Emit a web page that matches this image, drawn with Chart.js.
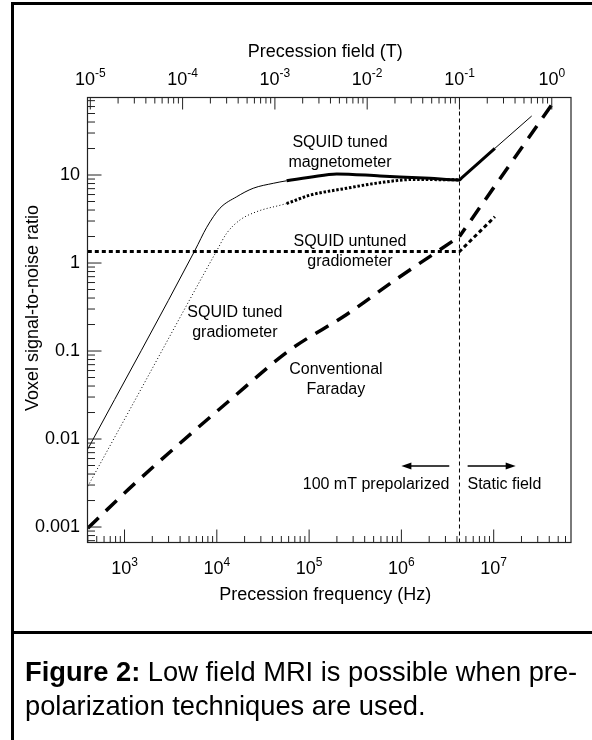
<!DOCTYPE html>
<html>
<head>
<meta charset="utf-8">
<script src="https://cdn.jsdelivr.net/npm/chart.js@4.4.0/dist/chart.umd.min.js"></script>
<style>
  html, body { margin: 0; padding: 0; background: #fff; }
  body { width: 592px; height: 740px; position: relative; overflow: hidden; font-family: 'Liberation Sans', Arial, sans-serif; }
  .frame { position: absolute; left: 11px; top: 2px; width: 600px; height: 760px; border: 3px solid #000; box-sizing: border-box; }
  .divider { position: absolute; left: 11px; top: 631px; width: 600px; height: 3px; background: #000; }
  .chart-box { position: absolute; left: 0; top: 0; width: 592px; height: 740px; }
  .caption { position: absolute; left: 25px; top: 655px; font-size: 27.3px; line-height: 34px; white-space: nowrap; color: #000; }
</style>
</head>
<body>
<div class="frame"></div>
<div class="divider"></div>
<div class="chart-box"><canvas id="snrChart"></canvas></div>
<div class="caption"><b>Figure 2:</b> Low field MRI is possible when pre-<br>polarization techniques are used.</div>
<script>
// proton gyromagnetic ratio, Hz per tesla (links the two x axes)
const GAMMA = 42.58e6;
const FREQ_MIN = 397, FREQ_MAX = 6.88e7;
const SNR_MIN = 6.67e-4, SNR_MAX = 76;
const PREPOL_FREQ = 4.258e6; // 0.1 T

// SQUID tuned magnetometer (solid, thick between 57 kHz and 10 MHz)
const magFreq = [400, 5810, 7780, 10800, 16400, 24800, 40900, 57000, 102000, 199000, 586000, 2040000, 4258000, 4500000, 10300000, 25800000];
const magSnr  = [0.0077, 1.4, 2.55, 4.19, 5.66, 7.07, 8.05, 8.6, 9.42, 10.3, 9.75, 9.17, 8.8, 9.26, 20.1, 46.8];

// SQUID tuned gradiometer (dotted, thick above 57 kHz)
const gradFreq = [400, 1300, 9980, 12800, 17800, 27000, 57000, 102000, 255000, 586000, 1350000, 4258000];
const gradSnr  = [0.0029, 0.0277, 1.38, 2.18, 3.08, 3.83, 4.75, 5.9, 7.07, 8.18, 8.9, 8.8];

// SQUID untuned gradiometer
const untunedFreq = [400, 4258000, 10300000];
const untunedSnr  = [1.35, 1.35, 3.36];

// Conventional Faraday: prepolarized part, then static field part
const faradayFreq = [400, 1300, 13900, 62200, 255000, 889000, 2420000, 4258000];
const faradaySnr  = [0.00097, 0.00314, 0.0277, 0.103, 0.26, 0.66, 1.34, 2.0];
const faradayStaticFreq = [4258000, 45700000];
const faradayStaticSnr  = [2.0, 70];

// axis labels
const hzExponents = [3, 4, 5, 6, 7];
const teslaExponents = [-5, -4, -3, -2, -1, 0];
const snrTickValues = [0.001, 0.01, 0.1, 1, 10];
const snrTickLabels = ['0.001', '0.01', '0.1', '1', '10'];

// curve labels (data position of the first line)
const curveLabels = [['SQUID tuned', 'magnetometer'], ['SQUID untuned', 'gradiometer'], ['SQUID tuned', 'gradiometer'], ['Conventional', 'Faraday']];
const curveLabelFreq = [2.16e5, 2.77e5, 1.57e4, 1.95e5];
const curveLabelSnr  = [23.1, 1.75, 0.27, 0.0608];

const regionLabels = ['100 mT prepolarized', 'Static field'];
const regionLabelSnr = 0.0030;
const leftArrowFreq = [3.3e6, 1.0e6];
const rightArrowFreq = [5.22e6, 1.73e7];
const arrowSnr = 0.00493;

const FONT = '"Liberation Sans", Arial, sans-serif';
const toPoints = (xs, ys) => xs.map((x, i) => ({ x, y: ys[i] }));

function logTicks(min, max) {
    const out = [];
    for (let e = Math.floor(Math.log10(min)); e <= Math.ceil(Math.log10(max)); e++) {
        for (let m = 1; m <= 9; m++) {
            const v = m * Math.pow(10, e);
            if (v >= min * 0.999 && v <= max * 1.001) out.push({ v, major: m === 1 });
        }
    }
    return out;
}

function drawPower(ctx, exp, cx, baseY) {
    const e = String(exp);
    ctx.font = '18px ' + FONT;
    const w1 = ctx.measureText('10').width;
    ctx.font = '12px ' + FONT;
    const w2 = ctx.measureText(e).width;
    const left = cx - (w1 + w2) / 2;
    ctx.textAlign = 'left';
    ctx.textBaseline = 'alphabetic';
    ctx.font = '18px ' + FONT;
    ctx.fillText('10', left, baseY);
    ctx.font = '12px ' + FONT;
    ctx.fillText(e, left + w1, baseY - 8.5);
}

function arrow(ctx, x1, x2, y) {
    const dir = Math.sign(x2 - x1);
    ctx.beginPath();
    ctx.moveTo(x1, y);
    ctx.lineTo(x2 - dir * 8, y);
    ctx.stroke();
    ctx.beginPath();
    ctx.moveTo(x2, y);
    ctx.lineTo(x2 - dir * 10, y - 3.5);
    ctx.lineTo(x2 - dir * 10, y + 3.5);
    ctx.closePath();
    ctx.fill();
}

const figurePlugin = {
    id: 'figureAxes',
    afterDraw(chart) {
        const { ctx, chartArea: a, scales } = chart;
        const sx = scales.x, st = scales.x2, sy = scales.y;
        ctx.save();
        ctx.strokeStyle = '#222';
        ctx.fillStyle = '#000';
        ctx.lineWidth = 1.2;
        ctx.strokeRect(a.left, a.top, a.right - a.left, a.bottom - a.top);

        // inward ticks
        ctx.lineWidth = 1;
        ctx.beginPath();
        logTicks(FREQ_MIN, FREQ_MAX).forEach(t => {
            const px = sx.getPixelForValue(t.v);
            ctx.moveTo(px, a.bottom);
            ctx.lineTo(px, a.bottom - (t.major ? 13 : 6.5));
        });
        logTicks(FREQ_MIN / GAMMA, FREQ_MAX / GAMMA).forEach(t => {
            const px = st.getPixelForValue(t.v);
            ctx.moveTo(px, a.top);
            ctx.lineTo(px, a.top + (t.major ? 12 : 6));
        });
        logTicks(SNR_MIN, SNR_MAX).forEach(t => {
            const py = sy.getPixelForValue(t.v);
            ctx.moveTo(a.left, py);
            ctx.lineTo(a.left + (t.major ? 14 : 7.5), py);
        });
        ctx.stroke();

        // tick labels
        hzExponents.forEach(e => drawPower(ctx, e, sx.getPixelForValue(Math.pow(10, e)), a.bottom + 31.5));
        teslaExponents.forEach(e => drawPower(ctx, e, st.getPixelForValue(Math.pow(10, e)), a.top - 12.5));
        ctx.font = '18px ' + FONT;
        ctx.textAlign = 'right';
        ctx.textBaseline = 'middle';
        snrTickValues.forEach((v, i) => ctx.fillText(snrTickLabels[i], a.left - 7.5, sy.getPixelForValue(v)));

        // axis titles
        const midX = (a.left + a.right) / 2 - 4;
        ctx.textAlign = 'center';
        ctx.textBaseline = 'alphabetic';
        ctx.fillText('Precession field (T)', midX, a.top - 41);
        ctx.fillText('Precession frequency (Hz)', midX, a.bottom + 57.5);
        ctx.save();
        ctx.translate(33, (a.top + a.bottom) / 2 - 12);
        ctx.rotate(-Math.PI / 2);
        ctx.textBaseline = 'middle';
        ctx.fillText('Voxel signal-to-noise ratio', 0, 0);
        ctx.restore();

        // curve labels
        ctx.font = '16px ' + FONT;
        ctx.textAlign = 'center';
        ctx.textBaseline = 'middle';
        curveLabels.forEach((lines, i) => {
            const px = sx.getPixelForValue(curveLabelFreq[i]);
            const py = sy.getPixelForValue(curveLabelSnr[i]);
            lines.forEach((s, j) => ctx.fillText(s, px, py + j * 19.5));
        });

        // prepolarized / static field
        const vx = sx.getPixelForValue(PREPOL_FREQ);
        const ly = sy.getPixelForValue(regionLabelSnr);
        ctx.textAlign = 'right';
        ctx.fillText(regionLabels[0], vx - 10, ly);
        ctx.textAlign = 'left';
        ctx.fillText(regionLabels[1], vx + 8, ly);
        ctx.lineWidth = 1.6;
        ctx.strokeStyle = '#000';
        const ay = sy.getPixelForValue(arrowSnr);
        arrow(ctx, sx.getPixelForValue(leftArrowFreq[0]), sx.getPixelForValue(leftArrowFreq[1]), ay);
        arrow(ctx, sx.getPixelForValue(rightArrowFreq[0]), sx.getPixelForValue(rightArrowFreq[1]), ay);
        ctx.restore();
    }
};

const thickMag = c => c.p0.parsed.x >= 57000 && c.p0.parsed.x < 1.0e7;
const thickGrad = c => c.p0.parsed.x >= 57000;

new Chart(document.getElementById('snrChart'), {
    type: 'line',
    data: {
        datasets: [
            {
                label: 'Prepolarization limit',
                data: toPoints([PREPOL_FREQ, PREPOL_FREQ], [SNR_MIN, SNR_MAX]),
                borderColor: '#000', borderWidth: 1, borderDash: [4, 3]
            },
            {
                label: 'SQUID tuned gradiometer',
                data: toPoints(gradFreq, gradSnr),
                borderColor: '#000', borderWidth: 1, cubicInterpolationMode: 'monotone',
                segment: {
                    borderWidth: c => thickGrad(c) ? 3 : 1,
                    borderDash: c => thickGrad(c) ? [2.5, 1.8] : [1, 2.3]
                }
            },
            {
                label: 'SQUID tuned magnetometer',
                data: toPoints(magFreq, magSnr),
                borderColor: '#000', borderWidth: 1, cubicInterpolationMode: 'monotone',
                segment: { borderWidth: c => thickMag(c) ? 3 : 1 }
            },
            {
                label: 'SQUID untuned gradiometer',
                data: toPoints(untunedFreq, untunedSnr),
                borderColor: '#000', borderWidth: 3, borderDash: [4, 3]
            },
            {
                label: 'Conventional Faraday',
                data: toPoints(faradayFreq, faradaySnr),
                borderColor: '#000', borderWidth: 3.5, borderDash: [15, 10], cubicInterpolationMode: 'monotone'
            },
            {
                label: 'Conventional Faraday (static field)',
                data: toPoints(faradayStaticFreq, faradayStaticSnr),
                borderColor: '#000', borderWidth: 3.5, borderDash: [15, 10], borderDashOffset: 5
            }
        ]
    },
    options: {
        responsive: true,
        maintainAspectRatio: false,
        animation: false,
        layout: { padding: { left: 0, right: 21, top: 0, bottom: 0 } },
        elements: { point: { radius: 0 }, line: { tension: 0, borderCapStyle: 'butt' } },
        plugins: { legend: { display: false }, tooltip: { enabled: false } },
        scales: {
            x: {
                type: 'logarithmic', position: 'bottom', min: FREQ_MIN, max: FREQ_MAX,
                grid: { display: false }, border: { display: false }, ticks: { display: false },
                afterFit: s => { s.height = 197.5; }
            },
            x2: {
                type: 'logarithmic', position: 'top', axis: 'x', min: FREQ_MIN / GAMMA, max: FREQ_MAX / GAMMA,
                grid: { display: false }, border: { display: false }, ticks: { display: false },
                afterFit: s => { s.height = 97.5; }
            },
            y: {
                type: 'logarithmic', position: 'left', min: SNR_MIN, max: SNR_MAX,
                grid: { display: false }, border: { display: false }, ticks: { display: false },
                afterFit: s => { s.width = 87.5; }
            }
        }
    },
    plugins: [figurePlugin]
});
</script>
</body>
</html>
